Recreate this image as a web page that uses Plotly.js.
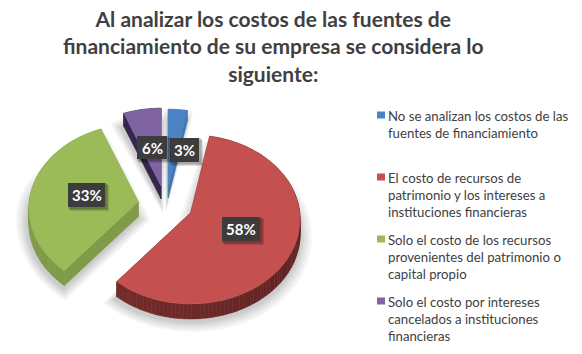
<!DOCTYPE html>
<html><head><meta charset="utf-8">
<script src="https://cdn.plot.ly/plotly-3.0.1.min.js"></script>
<style>html,body{margin:0;padding:0;background:#fff}#c{width:582px;height:354px}</style></head>
<body><div id="c"></div>
<script>
const titleText = "Al analizar los costos de las fuentes de<br>financiamiento de su empresa se considera lo<br>siguiente:";
const categories = [
  "No se analizan los costos de las<br>fuentes de financiamiento",
  "El costo de recursos de<br>patrimonio y los intereses a<br>instituciones financieras",
  "Solo el costo de los recursos<br>provenientes del patrimonio o<br>capital propio",
  "Solo el costo por intereses<br>cancelados a instituciones<br>financieras"
];
const values = [3, 58, 33, 6];
const topColors = ["#4a84c4", "#c4504f", "#9bbb59", "#8064a2"];
const wallNear = ["#3f74ad", "#4e1c1c", "#7f9b47", "#32264a"];
const wallFar = ["#3f74ad", "#742b2b", "#7f9b47", "#32264a"];

// pie geometry: apex of each exploded slice, then a perspective ellipse
const apex = [[168.3,187],[190.7,212.7],[138.3,201.7],[161,186]];
const depth = [11, 15, 15, 13];
const RX = 109, RY = 84, PERSP = 0.08;
const labelBox = [[184.5,150,29,24],[241,229,38,24],[86.5,195,37,24],[152,147.5,30,23]];
const legendSwatchY = [115, 177, 239, 301];
const shadowSteps = [[13,'#f5f5f5'],[10.5,'#ececec'],[8,'#e2e2e2'],[5.5,'#d7d7d7'],[3,'#cccccc']];

const total = values.reduce((a,b)=>a+b,0);
function pt(i, deg){
  const t = deg*Math.PI/180, u = Math.sin(t), v = Math.cos(t), s = 1/(1+PERSP*v);
  return [apex[i][0] + RX*u*s, apex[i][1] - RY*v*s];
}
const poly = (p,extra)=>Object.assign({type:'scatter',mode:'lines',x:p.map(q=>q[0]),y:p.map(q=>q[1]),
   fill:'toself',hoverinfo:'skip',showlegend:false},extra);
let acc = 0, outlines = [], walls = [], tops = [];
values.forEach((val,i)=>{
  const a0 = acc/total*360, a1 = (acc+val)/total*360; acc += val;
  const n = Math.max(4, Math.round((a1-a0)/2));
  const arc = [];
  for(let k=0;k<=n;k++) arc.push(pt(i, a0+(a1-a0)*k/n));
  const outline = [apex[i], ...arc, apex[i]];
  const down = p=>[p[0],p[1]+depth[i]];
  outlines.push(outline.map(down).map(p=>[p[0]-1,p[1]+2]));
  // radial side walls
  [arc[0],arc[n]].forEach(e=>{
    walls.push(poly([apex[i],e,down(e),down(apex[i]),apex[i]],{fillcolor:wallFar[i],line:{width:.5,color:wallFar[i]}}));
  });
  // rim wall, shaded in steps along the arc
  for(let k=0;k<n;k++){
    const f = k/Math.max(1,n-1);
    const hex = h=>[1,3,5].map(j=>parseInt(h.substr(j,2),16));
    const A = hex(wallNear[i]), B = hex(wallFar[i]);
    const col = 'rgb('+A.map((x,j)=>Math.round(x+(B[j]-x)*f)).join(',')+')';
    walls.push(poly([arc[k],arc[k+1],down(arc[k+1]),down(arc[k]),arc[k]],{fillcolor:col,line:{width:.5,color:col}}));
  }
  tops.push(poly(outline,{name:categories[i].replace(/<br>/g,' '),fillcolor:topColors[i],line:{width:.5,color:topColors[i]}}));
});

// soft shadow: each silhouette grown outward from its centre in grey steps, widest first
const grow = (o,w)=>{
  const cx = o.reduce((s,p)=>s+p[0],0)/o.length, cy = o.reduce((s,p)=>s+p[1],0)/o.length;
  return o.map(p=>{const dx=p[0]-cx,dy=p[1]-cy,d=Math.hypot(dx,dy)||1;return [p[0]+dx/d*w,p[1]+dy/d*w];});
};
const shadows = [];
shadowSteps.forEach(([w,c])=>outlines.forEach(o=>shadows.push(poly(grow(o,w),{fillcolor:c,line:{width:0}}))));

const shapes = [], annotations = [];
values.forEach((val,i)=>{
  const [cx,cy,w,h] = labelBox[i];
  [3,2,1].forEach(o=>shapes.push({type:'rect',xref:'x',yref:'y',x0:cx-w/2+o-1,x1:cx+w/2+o+1,y0:cy-h/2+o-1,y1:cy+h/2+o+1,
    fillcolor:'rgba(0,0,0,0.13)',line:{width:0}}));
  shapes.push({type:'rect',xref:'x',yref:'y',x0:cx-w/2,x1:cx+w/2,y0:cy-h/2,y1:cy+h/2,fillcolor:'#3c3c3c',line:{width:0}});
  annotations.push({xref:'x',yref:'y',x:cx,y:cy,text:'<b>'+val+'%</b>',showarrow:false,xanchor:'center',yanchor:'middle',
    font:{family:'Lato',size:15,color:'#ffffff'}});
  shapes.push({type:'rect',xref:'x',yref:'y',x0:377,x1:385,y0:legendSwatchY[i]-3.5,y1:legendSwatchY[i]+3.5,fillcolor:topColors[i],line:{width:0}});
  annotations.push({xref:'x',yref:'y',x:388,y:legendSwatchY[i]-9,text:categories[i],showarrow:false,xanchor:'left',yanchor:'top',align:'left',
    xshift:-2,font:{family:'Lato',size:13.2,color:'#404040'}});
});

annotations.push({xref:'paper',yref:'y',x:0.4705,y:4,text:'<b>'+titleText+'</b>',showarrow:false,xanchor:'center',yanchor:'top',align:'center',
  font:{family:'Lato',size:21,color:'#404040'}});

Plotly.newPlot('c',[...shadows,...walls,...tops],{
  width:582,height:354,margin:{l:0,r:0,t:0,b:0},paper_bgcolor:'#fff',plot_bgcolor:'#fff',showlegend:false,
  xaxis:{range:[0,582],visible:false,fixedrange:true},
  yaxis:{range:[354,0],visible:false,fixedrange:true},
  shapes,annotations
},{displayModeBar:false,staticPlot:true});
</script></body></html>
